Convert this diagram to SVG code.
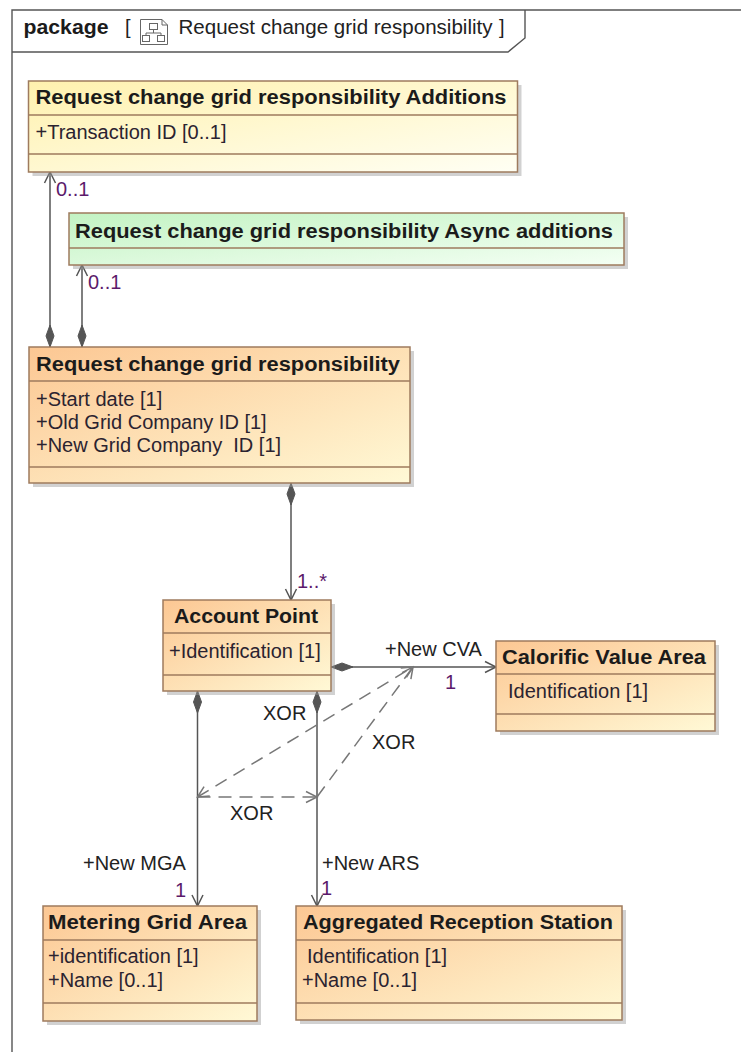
<svg xmlns="http://www.w3.org/2000/svg" width="741" height="1052" viewBox="0 0 741 1052">
<style>
.box{stroke:#9E7B5E;stroke-width:1.5}
.div{stroke:#9E7B5E;stroke-width:1.5;fill:none}
.sh{fill:#9a9a9a;opacity:0.45}
.t{font-family:"Liberation Sans",Arial,sans-serif;font-size:20px;font-weight:bold;fill:#1b1b1b}
.a{font-family:"Liberation Sans",Arial,sans-serif;font-size:20px;fill:#2b2330}
.m{font-family:"Liberation Sans",Arial,sans-serif;font-size:20px;fill:#5c1a6b}
.l{font-family:"Liberation Sans",Arial,sans-serif;font-size:20px;fill:#222}
.c{stroke:#555;stroke-width:1.5;fill:none}
.d{stroke:#777;stroke-width:1.5;fill:none;stroke-dasharray:13 8}
.fr{stroke:#555;stroke-width:1.4;fill:none}
</style>
<defs>
<linearGradient id="gO" x1="0" y1="0" x2="1" y2="1"><stop offset="0" stop-color="#FCC793"/><stop offset="1" stop-color="#FFF9D6"/></linearGradient>
<linearGradient id="gY" x1="0" y1="0" x2="1" y2="1"><stop offset="0" stop-color="#FFF1AE"/><stop offset="1" stop-color="#FFFFF4"/></linearGradient>
<linearGradient id="gG" x1="0" y1="0" x2="1" y2="1"><stop offset="0" stop-color="#C3F3C3"/><stop offset="1" stop-color="#F4FFF4"/></linearGradient>
<marker id="dia" markerUnits="userSpaceOnUse" markerWidth="24" markerHeight="12" viewBox="0 -6 24 12" refX="0" refY="0" orient="auto" overflow="visible"><path d="M0,0 L11,-4 L22,0 L11,4 Z" fill="#555" stroke="#555" stroke-width="1"/></marker>
<marker id="arr" markerUnits="userSpaceOnUse" markerWidth="14" markerHeight="14" viewBox="-13 -7 14 14" refX="0" refY="0" orient="auto-start-reverse" overflow="visible"><path d="M-11,-5.5 L0,0 L-11,5.5" fill="none" stroke="#555" stroke-width="1.5"/></marker>
<marker id="arrD" markerUnits="userSpaceOnUse" markerWidth="14" markerHeight="14" viewBox="-13 -7 14 14" refX="0" refY="0" orient="auto-start-reverse" overflow="visible"><path d="M-11,-5.5 L0,0 L-11,5.5" fill="none" stroke="#777" stroke-width="1.5"/></marker>
</defs>
<rect width="741" height="1052" fill="#fff"/>
<g id="frame">
<path class="fr" d="M12,1052 V10 H741"/>
<path class="fr" d="M12,52 H508 L525,38 V10"/>
<text class="t" x="23.5" y="34" textLength="85" lengthAdjust="spacingAndGlyphs">package</text>
<text class="l" x="125" y="34">[</text>
<g id="icon" fill="none" stroke="#666" stroke-width="1">
<path d="M140.5,19.5 H162 L167.5,25 V44.5 H140.5 Z" fill="#fff"/>
<path d="M162,19.5 V25 H167.5"/>
<rect x="149.5" y="23.5" width="8" height="6"/>
<path d="M153.5,29.5 V33 M146,33 H161 M146,33 V35 M161,33 V35"/>
<rect x="142.5" y="35.5" width="7" height="6"/>
<rect x="157.5" y="35.5" width="7" height="6"/>
</g>
<text class="l" x="178.5" y="34" textLength="314" lengthAdjust="spacingAndGlyphs">Request change grid responsibility</text>
<text class="l" x="499" y="34">]</text>
</g>
<g id="connectors">
<path class="c" d="M50,347 V172" marker-start="url(#dia)" marker-end="url(#arr)"/>
<path class="c" d="M82,347 V265" marker-start="url(#dia)" marker-end="url(#arr)"/>
<path class="c" d="M291,483 V600" marker-start="url(#dia)" marker-end="url(#arr)"/>
<path class="c" d="M331,667 H496" marker-start="url(#dia)" marker-end="url(#arr)"/>
<path class="c" d="M197.5,691 V906" marker-start="url(#dia)" marker-end="url(#arr)"/>
<path class="c" d="M317,691 V906" marker-start="url(#dia)" marker-end="url(#arr)"/>
<path class="d" d="M317,797 L413,667" marker-end="url(#arrD)"/>
<path class="d" d="M197.5,797 L413,667" marker-start="url(#arrD)" marker-end="url(#arrD)"/>
<path class="d" d="M197.5,797 H317" marker-end="url(#arrD)"/>
<text class="m" x="56" y="196">0..1</text>
<text class="m" x="88" y="289">0..1</text>
<text class="m" x="297" y="588">1..*</text>
<text class="l" x="385" y="656">+New CVA</text>
<text class="m" x="445" y="689">1</text>
<text class="l" x="263" y="720">XOR</text>
<text class="l" x="372" y="749">XOR</text>
<text class="l" x="230" y="820">XOR</text>
<text class="l" x="83" y="870">+New MGA</text>
<text class="m" x="175" y="897">1</text>
<text class="l" x="322" y="870">+New ARS</text>
<text class="m" x="321" y="895">1</text>
</g>
<g id="additions">
<rect class="sh" x="32.5" y="85" width="489" height="91"/>
<rect class="box" x="28.5" y="81" width="489" height="91" fill="url(#gY)"/>
<path class="div" d="M28.5,115 H517.5 M28.5,154 H517.5"/>
<text class="t" x="35.5" y="104" textLength="471" lengthAdjust="spacingAndGlyphs">Request change grid responsibility Additions</text>
<text class="a" x="35.5" y="139">+Transaction ID [0..1]</text>
</g>
<g id="async">
<rect class="sh" x="73" y="217" width="555" height="52"/>
<rect class="box" x="69" y="213" width="555" height="52" fill="url(#gG)"/>
<path class="div" d="M69,248 H624"/>
<text class="t" x="75" y="238" textLength="538" lengthAdjust="spacingAndGlyphs">Request change grid responsibility Async additions</text>
</g>
<g id="rcgr">
<rect class="sh" x="33" y="351" width="381" height="136"/>
<rect class="box" x="29" y="347" width="381" height="136" fill="url(#gO)"/>
<path class="div" d="M29,381 H410 M29,467 H410"/>
<text class="t" x="36" y="371" textLength="364" lengthAdjust="spacingAndGlyphs">Request change grid responsibility</text>
<text class="a" x="36" y="406">+Start date [1]</text>
<text class="a" x="36" y="429">+Old Grid Company ID [1]</text>
<text class="a" x="36" y="452" xml:space="preserve">+New Grid Company  ID [1]</text>
</g>
<g id="accountpoint">
<rect class="sh" x="167" y="604" width="168" height="91"/>
<rect class="box" x="163" y="600" width="168" height="91" fill="url(#gO)"/>
<path class="div" d="M163,633 H331 M163,675 H331"/>
<text class="t" x="174" y="623" textLength="144" lengthAdjust="spacingAndGlyphs">Account Point</text>
<text class="a" x="169" y="658">+Identification [1]</text>
</g>
<g id="cva">
<rect class="sh" x="500" y="645" width="219" height="90"/>
<rect class="box" x="496" y="641" width="219" height="90" fill="url(#gO)"/>
<path class="div" d="M496,674 H715 M496,714 H715"/>
<text class="t" x="502" y="664" textLength="204" lengthAdjust="spacingAndGlyphs">Calorific Value Area</text>
<text class="a" x="508" y="698">Identification [1]</text>
</g>
<g id="mga">
<rect class="sh" x="47" y="910" width="214" height="115"/>
<rect class="box" x="43" y="906" width="214" height="115" fill="url(#gO)"/>
<path class="div" d="M43,940 H257 M43,1003 H257"/>
<text class="t" x="48" y="929" textLength="199" lengthAdjust="spacingAndGlyphs">Metering Grid Area</text>
<text class="a" x="48" y="963">+identification [1]</text>
<text class="a" x="48" y="987">+Name [0..1]</text>
</g>
<g id="ars">
<rect class="sh" x="300" y="910" width="326" height="114"/>
<rect class="box" x="296" y="906" width="326" height="114" fill="url(#gO)"/>
<path class="div" d="M296,940 H622 M296,1003 H622"/>
<text class="t" x="303" y="929" textLength="310" lengthAdjust="spacingAndGlyphs">Aggregated Reception Station</text>
<text class="a" x="307" y="963">Identification [1]</text>
<text class="a" x="302" y="987">+Name [0..1]</text>
</g>
</svg>
